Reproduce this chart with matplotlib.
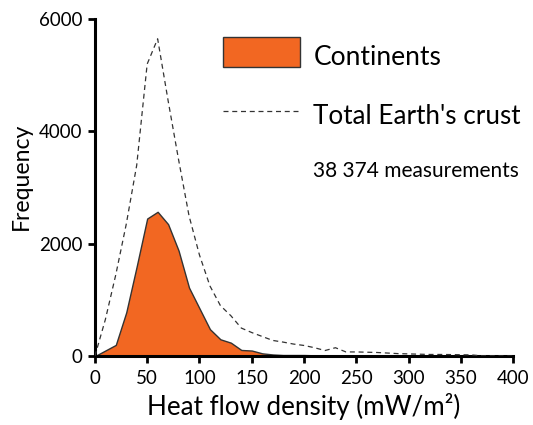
import numpy as np
from matplotlib import pyplot as plt
from matplotlib.patches import Rectangle
from matplotlib.lines import Line2D

plt.rcParams['font.family'] = ['Lato', 'DejaVu Sans']

# heat flow bins (mW/m^2), step 10
heatFlow = np.arange(0, 410, 10)

continents = [0, 100, 200, 780, 1600, 2450, 2570, 2350, 1880, 1220,
              850, 480, 300, 240, 110, 100, 50, 30, 20, 20,
              20, 15, 10, 5, 0, 0, 0, 0, 0, 0,
              0, 0, 0, 0, 0, 0, 0, 0, 0, 0, 0]

totalCrust = [0, 650, 1450, 2350, 3400, 5200, 5650, 4550, 3500, 2500,
              1800, 1250, 900, 720, 500, 420, 350, 280, 250, 215,
              190, 150, 100, 150, 75, 75, 70, 65, 55, 45,
              40, 35, 30, 30, 28, 25, 22, 5, 5, 3, 0]

xTicks = [0, 50, 100, 150, 200, 250, 300, 350, 400]
yTicks = [0, 2000, 4000, 6000]

orange = '#F26722'
edge = '#333333'

fig = plt.figure(figsize=(5.33, 4.25), dpi=100)
ax = fig.add_axes([0.178, 0.162, 0.785, 0.793])

ax.fill_between(heatFlow, continents, color=orange, edgecolor=edge, linewidth=1, zorder=2)
ax.plot(heatFlow, totalCrust, color=edge, linestyle=(0, (4, 3)), linewidth=0.9, zorder=3)

ax.set_xlim(0, 400)
ax.set_ylim(0, 6000)
ax.set_xticks(xTicks)
ax.set_yticks(yTicks)
for s in ['top', 'right']:
    ax.spines[s].set_visible(False)
for s in ['left', 'bottom']:
    ax.spines[s].set_linewidth(2.2)
ax.tick_params(direction='out', length=5, width=2, labelsize=13.5, pad=4)
ax.tick_params(axis='x', pad=5)

ax.set_xlabel("Heat flow density (mW/m²)", fontsize=18.7, labelpad=4)
ax.set_ylabel("Frequency", fontsize=16.6)
ax.yaxis.set_label_coords(-0.151, 0.534)

# legend drawn by hand
ax.add_patch(Rectangle((0.307, 0.857), 0.184, 0.089, transform=ax.transAxes,
                       facecolor=orange, edgecolor=edge, linewidth=1, clip_on=False))
ax.add_line(Line2D([0.307, 0.491], [0.727, 0.727], transform=ax.transAxes,
                   color=edge, linestyle=(0, (4, 3)), linewidth=0.9))
ax.text(0.522, 0.8635, "Continents", transform=ax.transAxes, fontsize=19, va='baseline')
ax.text(0.522, 0.688, "Total Earth's crust", transform=ax.transAxes, fontsize=18.8, va='baseline')
ax.text(0.522, 0.532, "38 374 measurements", transform=ax.transAxes, fontsize=15, va='baseline')

plt.savefig("out.png", dpi=100)
